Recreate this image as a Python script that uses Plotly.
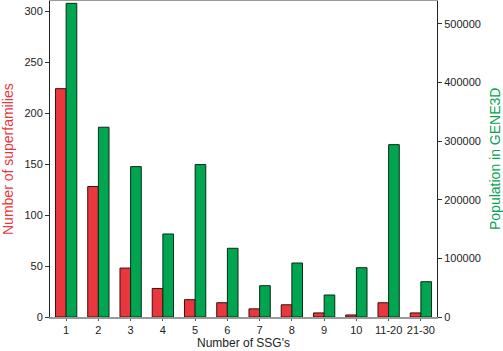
import plotly.graph_objects as go

categories = ["1", "2", "3", "4", "5", "6", "7", "8", "9", "10", "11-20", "21-30"]
superfamilies = [224, 128, 48, 28, 17, 14, 8, 12, 4, 2, 14, 4]
population = [535000, 323700, 256500, 141600, 260000, 117200, 53400, 92100, 37500, 84100, 294000, 60200]
left_ticks = [0, 50, 100, 150, 200, 250, 300]
right_ticks = [0, 100000, 200000, 300000, 400000, 500000]

RED = "#E8373D"
GREEN = "#00A550"
FONT = "Liberation Sans, Arial, sans-serif"

fig = go.Figure()
fig.add_trace(go.Bar(
    x=categories, y=superfamilies, name="Number of superfamilies",
    marker=dict(color=RED, line=dict(color="#3a1010", width=1)),
    width=0.33, offset=-0.33, yaxis="y",
))
fig.add_trace(go.Bar(
    x=categories, y=population, name="Population in GENE3D",
    marker=dict(color=GREEN, line=dict(color="#0d2a18", width=1)),
    width=0.33, offset=0.0, yaxis="y2",
))

fig.update_layout(
    width=503, height=351,
    margin=dict(l=50, r=66, t=1, b=34, autoexpand=False),
    paper_bgcolor="white", plot_bgcolor="white",
    showlegend=False,
    font=dict(family=FONT, size=11, color="#222"),
    xaxis=dict(
        type="category", range=[-0.5, 11.5], automargin=False,
        showline=True, linecolor="#999", linewidth=2, mirror=True,
        ticks="outside", ticklen=2, tickcolor="#555",
        showgrid=False, zeroline=False,
        tickfont=dict(size=11, color="#222"),
    ),
    yaxis=dict(
        range=[0, 310], tickvals=left_ticks, automargin=False,
        showline=True, linecolor="#222", linewidth=1,
        ticks="outside", ticklen=4, tickcolor="#333",
        showgrid=False, zeroline=False,
        tickfont=dict(size=11, color="#222"),
    ),
    yaxis2=dict(
        range=[0, 539000], tickvals=right_ticks, automargin=False,
        ticktext=[str(v) for v in right_ticks],
        overlaying="y", side="right",
        showline=True, linecolor="#222", linewidth=1,
        ticks="outside", ticklen=4, tickcolor="#333",
        showgrid=False, zeroline=False,
        tickfont=dict(size=11, color="#222"),
    ),
    annotations=[
        dict(text="Number of SSG's", xref="paper", yref="paper", x=0.5, y=0,
             yshift=-26, yanchor="middle", showarrow=False,
             font=dict(size=12, color="#222")),
        dict(text="Number of superfamilies", xref="paper", yref="paper", x=0, y=0.5,
             xshift=-42, xanchor="center", yanchor="middle", textangle=-90,
             showarrow=False, font=dict(size=14, color=RED)),
        dict(text="Population in GENE3D", xref="paper", yref="paper", x=1, y=0.5,
             xshift=58, xanchor="center", yanchor="middle", textangle=-90,
             showarrow=False, font=dict(size=14, color=GREEN)),
    ],
)

fig.write_html("out.html", config={"displayModeBar": False},
               post_script="document.body.style.margin='0';document.body.style.overflow='hidden';")
